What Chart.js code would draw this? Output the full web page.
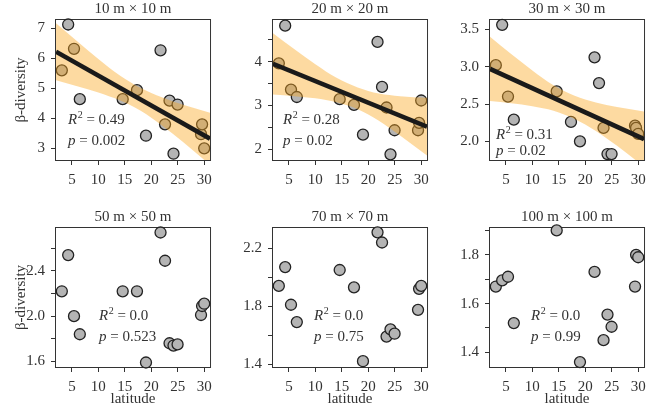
<!DOCTYPE html>
<html>
<head>
<meta charset="utf-8">
<script src="https://cdn.jsdelivr.net/npm/chart.js@4"></script>
<style>
  html, body { margin: 0; padding: 0; background: #fff; }
  body { width: 653px; height: 413px; position: relative; overflow: hidden; }
  canvas { position: absolute; }
</style>
</head>
<body>
<canvas id="p0"></canvas>
<canvas id="p1"></canvas>
<canvas id="p2"></canvas>
<canvas id="p3"></canvas>
<canvas id="p4"></canvas>
<canvas id="p5"></canvas>
<script>
// site latitudes (same 15 sites in every panel)
const latitude = [3.1, 4.3, 5.4, 6.5, 14.6, 17.3, 19.0, 21.75, 22.6, 23.45, 24.2, 24.97, 29.4, 29.6, 30.0];

const beta10  = [5.60, 7.13, 6.32, 4.64, 4.64, 4.94, 3.42, 6.27, 3.80, 4.59, 2.82, 4.46, 3.47, 3.80, 3.00];
const beta20  = [3.96, 4.82, 3.36, 3.19, 3.14, 3.01, 2.33, 4.45, 3.42, 2.95, 1.88, 2.43, 2.43, 2.60, 3.11];
const beta30  = [3.02, 3.56, 2.60, 2.29, 2.67, 2.26, 2.00, 3.125, 2.78, 2.18, 1.83, 1.83, 2.21, 2.18, 2.10];
const beta50  = [2.22, 2.54, 2.00, 1.84, 2.22, 2.22, 1.59, 2.74, 2.49, 1.76, 1.74, 1.75, 2.01, 2.09, 2.11];
const beta70  = [1.94, 2.07, 1.81, 1.69, 2.05, 1.93, 1.42, 2.31, 2.24, 1.59, 1.64, 1.61, 1.775, 1.92, 1.94];
const beta100 = [1.67, 1.695, 1.71, 1.52, 1.90, null, 1.36, 1.73, null, 1.45, 1.555, 1.505, 1.67, 1.80, 1.79];

const panelTitles = ['10 m × 10 m', '20 m × 20 m', '30 m × 30 m', '50 m × 50 m', '70 m × 70 m', '100 m × 100 m'];
const r2Labels = ['0.49', '0.28', '0.31', '0.0', '0.0', '0.0'];
const pLabels = ['0.002', '0.02', '0.02', '0.523', '0.75', '0.99'];

const fitX = [2.0, 31.1];
const fit10 = [6.22, 3.32];
const fit20 = [3.95, 2.51];
const fit30 = [2.97, 2.03];
const bandX = [2, 6, 10, 14, 18, 22, 26, 31.1];
const band10Upper = [7.17, 6.57, 5.98, 5.44, 5.01, 4.70, 4.45, 4.19];
const band10Lower = [5.27, 5.07, 4.86, 4.60, 4.25, 3.76, 3.21, 2.45];
const band20Upper = [4.65, 4.29, 3.94, 3.63, 3.41, 3.27, 3.21, 3.17];
const band20Lower = [3.25, 3.21, 3.16, 3.07, 2.91, 2.65, 2.31, 1.85];
const band30Upper = [3.40, 3.17, 2.95, 2.75, 2.61, 2.52, 2.46, 2.40];
const band30Lower = [2.54, 2.51, 2.47, 2.41, 2.30, 2.14, 1.94, 1.66];

// axes
const xRange = [2.0, 31.1];
const xTicks = [5, 10, 15, 20, 25, 30];
const yRanges = [[2.61, 7.28], [1.75, 4.95], [1.75, 3.625], [1.55, 2.78], [1.38, 2.34], [1.34, 1.91]];
const yTicks = [
  [3, 4, 5, 6, 7],
  [2, 2.5, 3, 3.5, 4, 4.5],
  [2.0, 2.5, 3.0, 3.5],
  [1.6, 1.8, 2.0, 2.2, 2.4, 2.6],
  [1.4, 1.6, 1.8, 2.0, 2.2],
  [1.4, 1.5, 1.6, 1.7, 1.8, 1.9]
];
const yTickLabels = [
  ['3', '4', '5', '6', '7'],
  ['2', '', '3', '', '4', ''],
  ['2.0', '2.5', '3.0', '3.5'],
  ['1.6', '', '2.0', '', '2.4', ''],
  ['1.4', '', '1.8', '', '2.2'],
  ['1.4', '', '1.6', '', '1.8', '']
];

const panelValues = [beta10, beta20, beta30, beta50, beta70, beta100];
const fits = [fit10, fit20, fit30, null, null, null];
const bands = [[band10Upper, band10Lower], [band20Upper, band20Lower], [band30Upper, band30Lower], null, null, null];

const SERIF = '"Liberation Serif", "DejaVu Serif", serif';
const INK = '#333';

// where the R2 / p text sits, relative to the plot box
const statPos = [
  { dx: 12, dy: 100, gap: 21.5 },
  { dx: 10, dy: 100, gap: 21.5 },
  { dx: 6, dy: 115, gap: 16 },
  { dx: 43, dy: 88, gap: 21 },
  { dx: 41, dy: 88, gap: 21 },
  { dx: 41, dy: 88, gap: 21 }
];

const frameAndStats = {
  id: 'frameAndStats',
  beforeDatasetsDraw(chart) {
    const { ctx, chartArea: a } = chart;
    ctx.save();
    ctx.strokeStyle = INK;
    ctx.lineWidth = 1;
    ctx.strokeRect(a.left - 0.5, a.top - 0.5, a.width + 1, a.height + 1);
    ctx.restore();
  },
  afterDatasetsDraw(chart, args, opts) {
    const { ctx, chartArea: a } = chart;
    const x = a.left + opts.dx;
    const y = a.top + opts.dy;
    ctx.save();
    ctx.fillStyle = INK;
    ctx.textBaseline = 'middle';
    ctx.textAlign = 'left';
    ctx.font = 'italic 15px ' + SERIF;
    ctx.fillText('R', x, y);
    let w = ctx.measureText('R').width;
    ctx.font = '10px ' + SERIF;
    ctx.fillText('2', x + w + 0.5, y - 5);
    w += ctx.measureText('2').width + 0.5;
    ctx.font = '15px ' + SERIF;
    ctx.fillText(' = ' + opts.r2, x + w, y);

    ctx.font = 'italic 15px ' + SERIF;
    ctx.fillText('p', x, y + opts.gap);
    const wp = ctx.measureText('p').width;
    ctx.font = '15px ' + SERIF;
    ctx.fillText(' = ' + opts.p, x + wp, y + opts.gap);
    ctx.restore();
  }
};

function buildDatasets(i) {
  const datasets = [];
  if (fits[i]) {
    datasets.push({
      type: 'line',
      data: fitX.map((x, k) => ({ x, y: fits[i][k] })),
      borderColor: '#1a1a1a',
      borderWidth: 4.5,
      pointRadius: 0,
      fill: false,
      clip: 0,
      order: 1
    });
    const [upper, lower] = bands[i];
    datasets.push({
      type: 'line',
      data: bandX.map((x, k) => ({ x, y: upper[k] })),
      borderWidth: 0,
      pointRadius: 0,
      backgroundColor: 'rgba(250,168,30,0.42)',
      fill: '+1',
      cubicInterpolationMode: 'monotone',
      clip: 0,
      order: 2
    });
    datasets.push({
      type: 'line',
      data: bandX.map((x, k) => ({ x, y: lower[k] })),
      borderWidth: 0,
      pointRadius: 0,
      fill: false,
      cubicInterpolationMode: 'monotone',
      clip: 0,
      order: 2
    });
  }
  datasets.push({
    type: 'scatter',
    data: latitude.map((x, k) => ({ x, y: panelValues[i][k] })).filter(p => p.y !== null),
    backgroundColor: '#b4b4b4',
    borderColor: '#222',
    borderWidth: 1.3,
    pointRadius: 5.5,
    clip: false,
    order: 3
  });
  return datasets;
}

function createPanel(i) {
  const row = Math.floor(i / 3);
  const col = i % 3;
  const canvas = document.getElementById('p' + i);
  const w = 218, h = row === 0 ? 206 : 207;
  canvas.width = w;
  canvas.height = h;
  canvas.style.left = (col * 217) + 'px';
  canvas.style.top = (row * 206) + 'px';
  canvas.style.width = w + 'px';
  canvas.style.height = h + 'px';

  const font = { family: SERIF, size: 15, weight: 'normal' };
  const tickGrid = { display: true, drawOnChartArea: false, drawTicks: true, tickLength: 5, color: INK, lineWidth: 1 };

  return new Chart(canvas.getContext('2d'), {
    type: 'scatter',
    data: { datasets: buildDatasets(i) },
    options: {
      responsive: false,
      animation: false,
      events: [],
      layout: { padding: { left: 0, right: 2, top: row === 0 ? 0 : 2, bottom: 0 } },
      plugins: {
        legend: { display: false },
        tooltip: { enabled: false },
        title: {
          display: true,
          text: panelTitles[i],
          color: INK,
          font,
          fullSize: false,
          padding: { top: 0, bottom: 2 }
        },
        frameAndStats: { r2: r2Labels[i], p: pLabels[i], ...statPos[i] }
      },
      scales: {
        x: {
          type: 'linear',
          min: xRange[0],
          max: xRange[1],
          grid: tickGrid,
          border: { display: false },
          afterBuildTicks: s => { s.ticks = xTicks.map(v => ({ value: v })); },
          afterFit: s => { s.height = 46; },
          ticks: { color: INK, font, padding: 6, maxRotation: 0, autoSkip: false, callback: v => String(v) },
          title: {
            display: row === 1,
            text: 'latitude',
            color: INK,
            font,
            padding: { top: 0, bottom: 5 }
          }
        },
        y: {
          type: 'linear',
          min: yRanges[i][0],
          max: yRanges[i][1],
          grid: tickGrid,
          border: { display: false },
          afterBuildTicks: s => { s.ticks = yTicks[i].map(v => ({ value: v })); },
          afterFit: s => { s.width = 56; },
          ticks: { color: INK, font, padding: 6, autoSkip: false, callback: (v, k) => yTickLabels[i][k] },
          title: {
            display: col === 0,
            text: 'β-diversity',
            color: INK,
            font,
            padding: { top: 12, bottom: 0 }
          }
        }
      }
    },
    plugins: [frameAndStats]
  });
}

for (let i = 0; i < 6; i++) createPanel(i);
</script>
</body>
</html>
